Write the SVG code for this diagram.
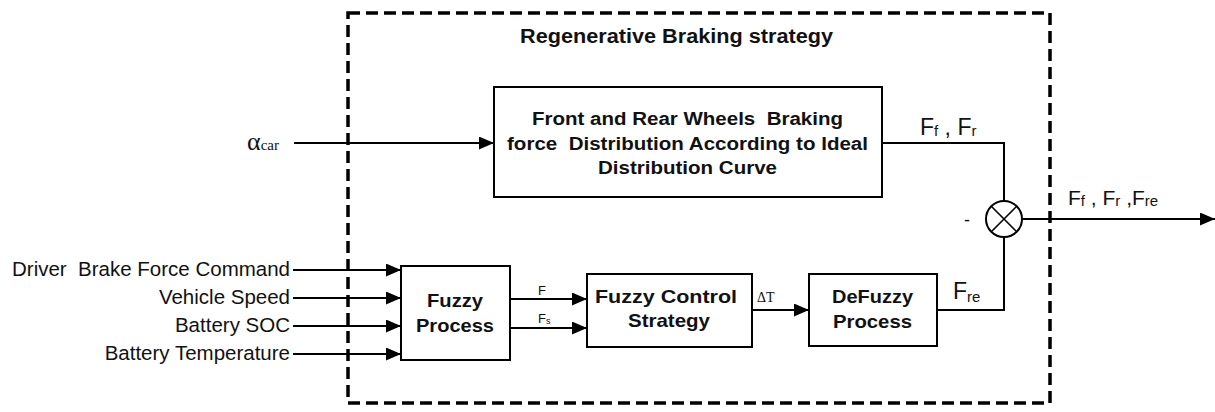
<svg xmlns="http://www.w3.org/2000/svg" width="1215" height="412" viewBox="0 0 1215 412">
  <defs>
    <marker id="arrow" viewBox="0 0 15 13" refX="15" refY="6.5" markerWidth="15" markerHeight="13" markerUnits="userSpaceOnUse" orient="auto">
      <path d="M0,0 L15,6.5 L0,13 Z" fill="#000"/>
    </marker>
    <style>
      .box { fill: #fff; stroke: #000; stroke-width: 2; }
      .wire { fill: none; stroke: #000; stroke-width: 2; }
      .bold { font-family: "Liberation Sans", Arial, sans-serif; font-weight: bold; fill: #111; white-space: pre; }
      .lbl { font-family: "Liberation Sans", Arial, sans-serif; fill: #111; white-space: pre; }
      .serif { font-family: "Liberation Serif", "Times New Roman", serif; fill: #111; }
    </style>
  </defs>
  <rect width="1215" height="412" fill="#fff"/>

  <!-- strategy boundary -->
  <g id="boundary">
    <rect x="348" y="13" width="702" height="390" fill="none" stroke="#000" stroke-width="3.5" stroke-dasharray="12 6"/>
    <text class="bold" x="520" y="43" font-size="19.5" textLength="313" lengthAdjust="spacingAndGlyphs">Regenerative Braking strategy</text>
  </g>

  <!-- connectors -->
  <g id="connectors">
    <line class="wire" x1="294" y1="143" x2="494" y2="143" marker-end="url(#arrow)"/>
    <line class="wire" x1="293" y1="270" x2="401" y2="270" marker-end="url(#arrow)"/>
    <line class="wire" x1="293" y1="298" x2="401" y2="298" marker-end="url(#arrow)"/>
    <line class="wire" x1="293" y1="326" x2="401" y2="326" marker-end="url(#arrow)"/>
    <line class="wire" x1="293" y1="354" x2="401" y2="354" marker-end="url(#arrow)"/>
    <line class="wire" x1="510" y1="299" x2="587" y2="299" marker-end="url(#arrow)"/>
    <line class="wire" x1="510" y1="328" x2="587" y2="328" marker-end="url(#arrow)"/>
    <line class="wire" x1="752" y1="310" x2="809" y2="310" marker-end="url(#arrow)"/>
    <polyline class="wire" points="882,143 1004,143 1004,201"/>
    <polyline class="wire" points="937,310 1004,310 1004,237"/>
    <line class="wire" x1="1022" y1="219" x2="1215" y2="219" marker-end="url(#arrow)"/>
  </g>

  <!-- input labels -->
  <g id="inputs">
    <text class="serif" x="247" y="150" font-size="26">α<tspan font-size="15">car</tspan></text>
    <text class="lbl" x="290" y="276" font-size="20.5" text-anchor="end">Driver&#160; Brake Force Command</text>
    <text class="lbl" x="290" y="304" font-size="20.5" text-anchor="end">Vehicle Speed</text>
    <text class="lbl" x="290" y="332" font-size="20.5" text-anchor="end">Battery SOC</text>
    <text class="lbl" x="290" y="360" font-size="20.5" text-anchor="end">Battery Temperature</text>
  </g>

  <g id="distribution">
    <rect class="box" x="494" y="87" width="388" height="110"/>
    <text class="bold" x="532" y="125" font-size="18" textLength="311" lengthAdjust="spacingAndGlyphs">Front and Rear Wheels&#160; Braking</text>
    <text class="bold" x="507" y="150" font-size="18" textLength="361" lengthAdjust="spacingAndGlyphs">force&#160; Distribution According to Ideal</text>
    <text class="bold" x="598" y="174" font-size="18" textLength="179" lengthAdjust="spacingAndGlyphs">Distribution Curve</text>
  </g>

  <g id="fuzzy-process">
    <rect class="box" x="401" y="266" width="109" height="94"/>
    <text class="bold" x="427" y="307" font-size="19" textLength="56" lengthAdjust="spacingAndGlyphs">Fuzzy</text>
    <text class="bold" x="416" y="332" font-size="19" textLength="78" lengthAdjust="spacingAndGlyphs">Process</text>
  </g>

  <g id="fuzzy-control">
    <rect class="box" x="587" y="274" width="165" height="73"/>
    <text class="bold" x="595" y="303" font-size="19" textLength="142" lengthAdjust="spacingAndGlyphs">Fuzzy Control</text>
    <text class="bold" x="628" y="327" font-size="19" textLength="82" lengthAdjust="spacingAndGlyphs">Strategy</text>
  </g>

  <g id="defuzzy">
    <rect class="box" x="809" y="274" width="128" height="72"/>
    <text class="bold" x="832" y="303" font-size="19" textLength="81" lengthAdjust="spacingAndGlyphs">DeFuzzy</text>
    <text class="bold" x="833" y="328" font-size="19" textLength="79" lengthAdjust="spacingAndGlyphs">Process</text>
  </g>

  <g id="summing-junction">
    <circle cx="1004" cy="219" r="18" fill="#fff" stroke="#000" stroke-width="2"/>
    <path d="M991.3,206.3 L1016.7,231.7 M1016.7,206.3 L991.3,231.7" stroke="#000" stroke-width="1.6"/>
    <text class="lbl" x="964" y="226" font-size="18">-</text>
  </g>

  <!-- signal labels -->
  <g id="signal-labels">
    <text class="lbl" x="538" y="295" font-size="13">F</text>
    <text class="lbl" x="538" y="323" font-size="13">F<tspan font-size="9" dy="1">s</tspan></text>
    <text class="serif" x="757" y="302" font-size="14">ΔT</text>
    <text class="lbl" x="920" y="135" font-size="23">F<tspan font-size="15" dy="1">f</tspan><tspan dy="-1"> , F</tspan><tspan font-size="15" dy="1">r</tspan></text>
    <text class="lbl" x="953" y="299" font-size="23">F<tspan font-size="15" dy="3">re</tspan></text>
    <text class="lbl" x="1068" y="205" font-size="21">F<tspan font-size="15" dy="1">f</tspan><tspan dy="-1"> , F</tspan><tspan font-size="15" dy="1">r</tspan><tspan dy="-1"> ,F</tspan><tspan font-size="15" dy="1">re</tspan></text>
  </g>
</svg>
